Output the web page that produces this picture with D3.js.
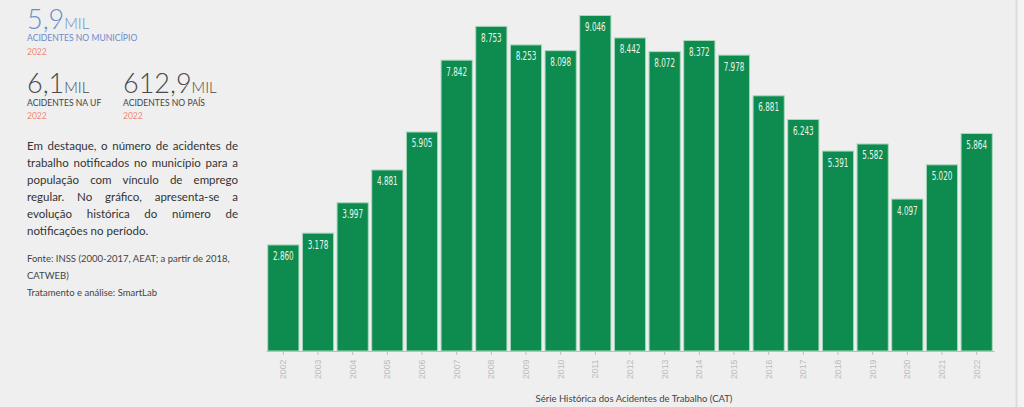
<!DOCTYPE html>
<html>
<head>
<meta charset="utf-8">
<script src="https://cdn.jsdelivr.net/npm/d3@7"></script>
<style>
  html, body { margin:0; padding:0; background:#efefef; width:1024px; height:407px; overflow:hidden; }
  #wrap { position:relative; width:1024px; height:407px; }
  svg { position:absolute; left:0; top:0; }
  .para { position:absolute; left:27px; top:137px; width:211px; font-family:Lato, "Open Sans", sans-serif; font-size:11.5px; line-height:17px; color:#333; }
  .para div { text-align:justify; text-align-last:justify; white-space:nowrap; }
  .para div.last { text-align-last:left; }
  .src { position:absolute; left:27px; top:251px; width:240px; font-family:Lato, "Open Sans", sans-serif; font-size:9.5px; line-height:16.8px; color:#444; }
</style>
</head>
<body>
<div id="wrap">
  <svg id="chart" width="1024" height="407"></svg>
  <div class="para" id="para"></div>
  <div class="src" id="src"></div>
</div>
<script>
const years = ["2002","2003","2004","2005","2006","2007","2008","2009","2010","2011","2012","2013","2014","2015","2016","2017","2018","2019","2020","2021","2022"];
const values = [2860, 3178, 3997, 4881, 5905, 7842, 8753, 8253, 8098, 9046, 8442, 8072, 8372, 7978, 6881, 6243, 5391, 5582, 4097, 5020, 5864];
const axisTitle = "Série Histórica dos Acidentes de Trabalho (CAT)";
const kpis = [
  {value:"5,9", unit:"MIL", label:"ACIDENTES NO MUNICÍPIO", year:"2022"},
  {value:"6,1", unit:"MIL", label:"ACIDENTES NA UF", year:"2022"},
  {value:"612,9", unit:"MIL", label:"ACIDENTES NO PAÍS", year:"2022"}
];
const paraLines = [
  "Em destaque, o número de acidentes de",
  "trabalho notificados no município para a",
  "população com vínculo de emprego",
  "regular. No gráfico, apresenta-se a",
  "evolução histórica do número de",
  "notificações no período."
];
const srcLines = [
  "Fonte: INSS (2000-2017, AEAT; a partir de 2018,",
  "CATWEB)",
  "Tratamento e análise: SmartLab"
];

const svg = d3.select("#chart");
const br = d3.formatLocale({decimal:",", thousands:".", grouping:[3], currency:["R$",""]});
const fmt = br.format(",d");

// right edge separator
svg.append("rect").attr("x",1017).attr("y",0).attr("width",7).attr("height",407).attr("fill","#f3f3f3");
svg.append("line").attr("x1",1016.5).attr("x2",1016.5).attr("y1",0).attr("y2",407).attr("stroke","#dcdcdc").attr("stroke-width",2);

const x = d3.scaleBand().domain(years).range([266, 994]).paddingInner(0.1).paddingOuter(0.05);
const y = d3.scaleLinear().domain([0, d3.max(values)]).range([351, 15.5]);

const data = years.map((yr,i)=>({yr, v:values[i]}));

svg.append("g").selectAll("rect").data(data).join("rect")
  .attr("x", d=>x(d.yr)).attr("y", d=>y(d.v))
  .attr("width", x.bandwidth()).attr("height", d=>y(0)-y(d.v))
  .attr("fill", "#0e8b4e").attr("stroke", "#a9d9bd").attr("stroke-width", 1);

svg.append("g").selectAll("text").data(data).join("text")
  .attr("transform", d=>`translate(${x(d.yr)+x.bandwidth()/2},${y(d.v)+15.5}) scale(0.7,1)`)
  .attr("text-anchor","middle")
  .attr("font-family", "'DejaVu Sans Condensed','DejaVu Sans',sans-serif")
  .attr("font-size", "11.5px").attr("fill","#eaf6ef")
  .text(d=>fmt(d.v));

const ax = svg.append("g").attr("transform","translate(0,351)")
  .call(d3.axisBottom(x).tickSize(4).tickSizeOuter(0));
ax.select(".domain").attr("stroke","#bdbdbd");
ax.selectAll(".tick line").attr("stroke","#bdbdbd");
ax.selectAll(".tick text")
  .attr("transform","rotate(-90)")
  .attr("text-anchor","end")
  .attr("x",-8.5).attr("y",0).attr("dy","0.35em")
  .attr("font-family","'Liberation Sans',Arial,sans-serif")
  .attr("font-size","8.8px").attr("fill","#bcbcbc");

svg.append("text").attr("x",634).attr("y",402).attr("text-anchor","middle")
  .attr("font-family","Lato,'Open Sans',sans-serif").attr("font-size","9.5px").attr("fill","#444")
  .text(axisTitle);

// KPIs
const kpiPos = [
  {x:27, vy:28.5, ly:41, yy:55, vc:"#6b8ccb", lc:"#6b8ccb"},
  {x:27, vy:93, ly:105.5, yy:118.5, vc:"#4a4a4a", lc:"#444"},
  {x:123, vy:93, ly:105.5, yy:118.5, vc:"#4a4a4a", lc:"#444"}
];
kpis.forEach((k,i)=>{
  const p = kpiPos[i];
  const t = svg.append("text").attr("x",p.x).attr("y",p.vy)
    .attr("font-family","Lato,sans-serif").attr("font-weight",300).attr("fill",p.vc);
  t.append("tspan").attr("font-size","27px").text(k.value);
  t.append("tspan").attr("font-size","15px").text(k.unit);
  svg.append("text").attr("x",p.x).attr("y",p.ly)
    .attr("font-family","Lato,sans-serif").attr("font-size","8.6px").attr("fill",p.lc).text(k.label);
  svg.append("text").attr("x",p.x).attr("y",p.yy)
    .attr("font-family","Lato,sans-serif").attr("font-size","8.5px").attr("fill","#f08876").text(k.year);
});

d3.select("#para").selectAll("div").data(paraLines).join("div")
  .classed("last",(d,i)=>i===paraLines.length-1).text(d=>d);
d3.select("#src").selectAll("div").data(srcLines).join("div").text(d=>d);
</script>
</body>
</html>
